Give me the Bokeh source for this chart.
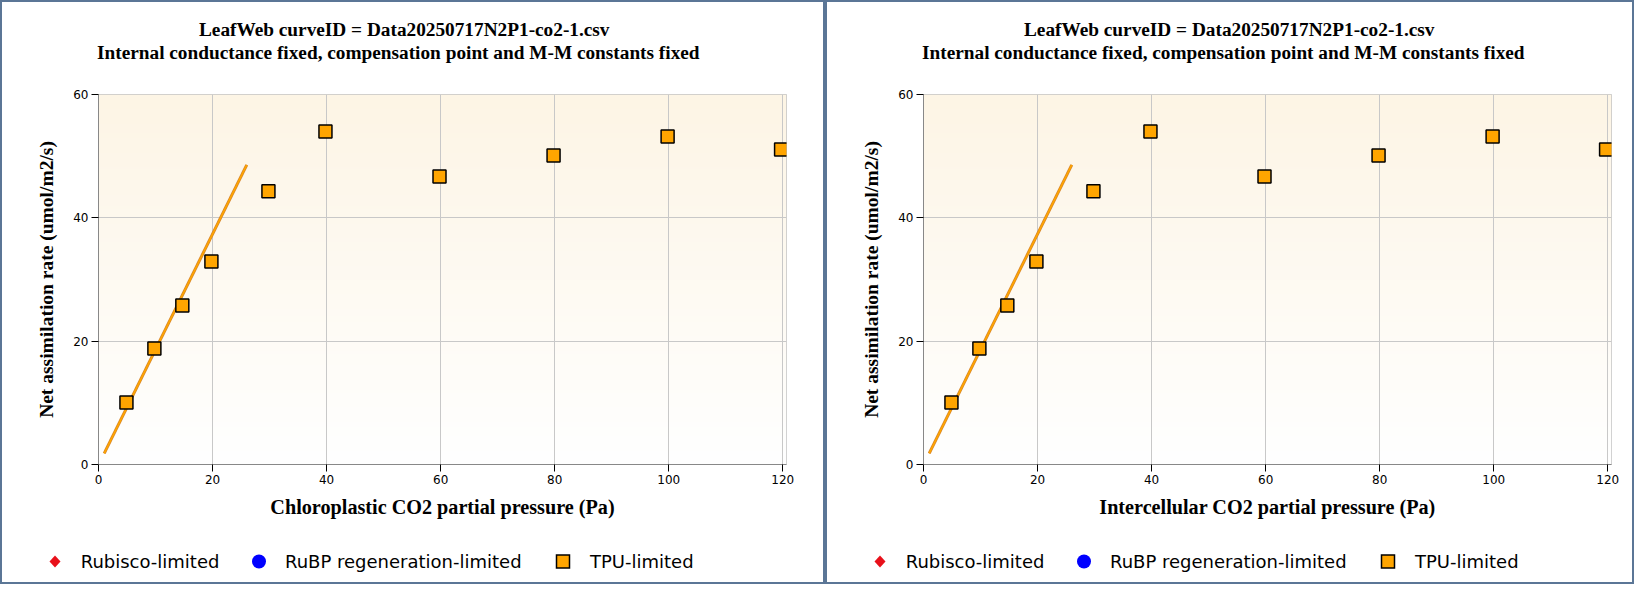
import numpy as np
from bokeh.plotting import figure
from bokeh.models import Range1d, Div
from bokeh.layouts import row, column
from bokeh.embed import file_html
from bokeh.resources import INLINE

# ---- data ----
title_line1 = "LeafWeb curveID = Data20250717N2P1-co2-1.csv"
title_line2 = "Internal conductance fixed, compensation point and M-M constants fixed"
x_labels = ["Chloroplastic CO2 partial pressure (Pa)", "Intercellular CO2 partial pressure (Pa)"]
y_label = "Net assimilation rate (umol/m2/s)"
legend_labels = ["Rubisco-limited", "RuBP regeneration-limited", "TPU-limited"]
legend_colors = ["#e8101a", "#0000ff", "#ffa500"]

tpu_x = [4.9, 9.8, 14.7, 19.8, 29.8, 39.8, 59.8, 79.8, 99.8, 119.7]
tpu_y = [10.05, 18.8, 25.8, 32.9, 44.3, 54.0, 46.7, 50.1, 53.2, 51.1]
fit_x = [1.0, 26.0]
fit_y = [1.8, 48.6]
rubisco_x, rubisco_y = [], []
rubp_x, rubp_y = [], []

x_ticks = [0, 20, 40, 60, 80, 100, 120]
y_ticks = [0, 20, 40, 60]
x_max = 120.65
y_max = 60

SERIF = "Liberation Serif"
SANS = "DejaVu Sans"
FRAME = "#5b7696"
BW = 2          # panel border width
PANEL_H = 584
TITLE_H = 70
PLOT_H = 463
LEG_H = 47


def gradient_image():
    n = 256
    t = np.linspace(0.0, 1.0, n)[:, None]  # row 0 = bottom
    img = np.empty((n, 2), dtype=np.uint32)
    v = img.view(dtype=np.uint8).reshape((n, 2, 4))
    v[:, :, 0] = (255 + (253 - 255) * t).astype(np.uint8)
    v[:, :, 1] = (255 + (245 - 255) * t).astype(np.uint8)
    v[:, :, 2] = (255 + (229 - 255) * t).astype(np.uint8)
    v[:, :, 3] = 255
    return img


def bar(w, h):
    return Div(text="", width=w, height=h, margin=0,
               styles={"background-color": FRAME})


def title_div(w):
    line = ("<div style=\"font-family:'Liberation Serif';font-weight:bold;font-size:19.3px;"
            "line-height:23px;color:black;white-space:nowrap;padding-left:{pl}px\">{t}</div>")
    html = ("<div style='padding-top:16px'>" + line.format(pl=197, t=title_line1)
            + line.format(pl=95, t=title_line2) + "</div>")
    return Div(text=html, width=w, height=TITLE_H, margin=0,
               styles={"background-color": "white"})


def legend_div(w):
    cy = 26.5
    keys = (
        f"<polygon points='53,{cy-6} 58.5,{cy} 53,{cy+6} 47.5,{cy}' fill='{legend_colors[0]}'/>"
        f"<circle cx='257' cy='{cy}' r='7' fill='{legend_colors[1]}'/>"
        f"<rect x='554.5' y='{cy-6.5}' width='13' height='13' fill='{legend_colors[2]}' "
        f"stroke='black' stroke-width='1.5'/>"
    )
    svg = (f"<svg width='{w}' height='{LEG_H}' style='position:absolute;left:0;top:0'>"
           + keys + "</svg>")
    spans = "".join(
        f"<span style=\"position:absolute;left:{lx}px;top:15.6px;line-height:21px;"
        f"font-family:'DejaVu Sans';font-size:18px;color:black;white-space:nowrap\">{lab}</span>"
        for lx, lab in zip((78.7, 283, 588), legend_labels))
    html = (f"<div style='position:relative;width:{w}px;height:{LEG_H}px'>"
            + svg + spans + "</div>")
    return Div(text=html, width=w, height=LEG_H, margin=0,
               styles={"background-color": "white"})


def make_panel(xlabel, inner_w, mb_left, mb_right):
    p = figure(width=inner_w, height=PLOT_H, x_range=Range1d(0, x_max), y_range=Range1d(0, y_max),
               output_backend="svg", toolbar_location=None, tools="",
               min_border_left=mb_left, min_border_right=mb_right,
               min_border_top=22, min_border_bottom=71)
    p.background_fill_color = "white"
    p.border_fill_color = "white"
    p.outline_line_color = "#c4c4c4"

    bg = p.image_rgba(image=[gradient_image()], x=0, y=0, dw=x_max, dh=y_max)
    bg.level = "image"

    for g, ticks in ((p.xgrid, x_ticks), (p.ygrid, y_ticks)):
        g.ticker = ticks
        g.grid_line_color = "#c8c8c8"
        g.grid_line_width = 1

    for ax, ticks in ((p.xaxis, x_ticks), (p.yaxis, y_ticks)):
        ax.ticker = ticks
        ax.axis_line_color = "#888888"
        ax.major_tick_line_color = "black"
        ax.major_tick_out = 7
        ax.major_tick_in = 0
        ax.minor_tick_line_color = None
        ax.major_label_text_font = SANS
        ax.major_label_text_font_size = "12px"
        ax.major_label_text_color = "black"
        ax.major_label_standoff = 3
        ax.axis_label_text_font = SERIF
        ax.axis_label_text_font_style = "bold"
        ax.axis_label_text_color = "black"
    p.xaxis.axis_label = xlabel
    p.xaxis.axis_label_text_font_size = "20.2px"
    p.xaxis.axis_label_standoff = 9
    p.yaxis.axis_label = y_label
    p.yaxis.axis_label_text_font_size = "19.5px"
    p.yaxis.axis_label_standoff = 13

    p.line(fit_x, fit_y, line_color="#d4842a", line_width=3)
    p.line(fit_x, fit_y, line_color="#ffa500", line_width=1.6)
    p.scatter(rubisco_x, rubisco_y, marker="diamond", size=14,
              fill_color=legend_colors[0], line_color=legend_colors[0])
    p.scatter(rubp_x, rubp_y, marker="circle", size=14,
              fill_color=legend_colors[1], line_color=legend_colors[1])
    p.scatter(tpu_x, tpu_y, marker="square", size=13,
              fill_color=legend_colors[2], line_color="black", line_width=1.5)

    inner = column(title_div(inner_w), p, legend_div(inner_w), spacing=0, margin=0)
    side_h = PANEL_H - 2 * BW
    mid = row(bar(BW, side_h), inner, bar(BW, side_h), spacing=0, margin=0)
    total_w = inner_w + 2 * BW
    return column(bar(total_w, BW), mid, bar(total_w, BW), spacing=0, margin=0)


panel1 = make_panel(x_labels[0], 821, 96, 37)
panel2 = make_panel(x_labels[1], 805, 96, 21)
layout = row(panel1, panel2, spacing=0, margin=0)

open("out.html", "w").write(file_html(layout, INLINE))
